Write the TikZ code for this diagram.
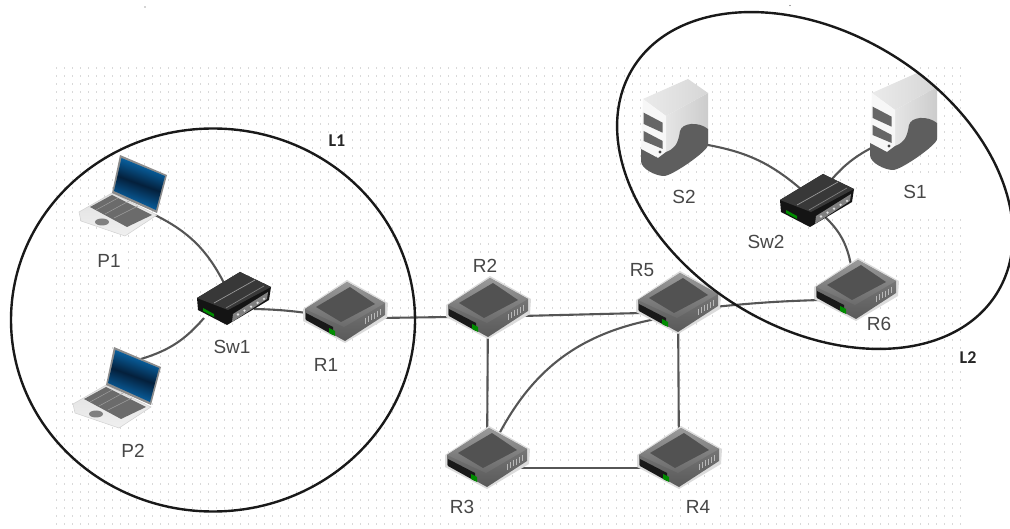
\documentclass[tikz,border=0pt]{standalone}
\usepackage{fontspec}
\setmainfont{Liberation Sans}
\newfontfamily\lfont{Carlito}
\usetikzlibrary{shadings}
\definecolor{link}{HTML}{555555}
\definecolor{scrA}{HTML}{0A78C4}
\definecolor{scrB}{HTML}{04203C}
\definecolor{scrC}{HTML}{0A72BC}
\tikzset{
  x=1pt,y=-1pt,
  link/.style={draw=link,line width=2.1pt},
  area/.style={draw=black!90,line width=2.4pt},
  lbl/.style={font=\fontsize{19}{19}\selectfont,text=black!72,fill=white,inner sep=5pt},
  zlbl/.style={font=\lfont\bfseries\fontsize{18}{18}\selectfont,text=black!85,fill=white,inner sep=2pt},
  dev/.style={inner sep=0pt,outer sep=0pt,minimum width=10pt,minimum height=10pt},
  router/.pic={
    \fill[black!14] (2,-32) -- (43,-9) -- (42,6) -- (0,31) -- (-42,9) -- (-42,-3) -- cycle;
    \shade[top color=black!48,bottom color=black!65] (2,-30) -- (40,-9) -- (40,3) -- (0,29) -- (-40,7) -- (-40,-3) -- cycle;
    \shade[top color=black!40,bottom color=black!58] (2,-30) -- (40,-9) -- (-1,15) -- (-40,-3) -- cycle;
    \fill[black!68] (5,-25) -- (30,-8) -- (-4,10) -- (-29,-5) -- cycle;
    \fill[black!90] (-39,1) -- (-12,15) -- (-12,23) -- (-39,8) -- cycle;
    \fill[green!55!black] (-16,16) -- (-10,19) -- (-10,24) -- (-16,21) -- cycle;
    \foreach \i in {0,...,5}{\draw[black!28,line width=.9pt] (20+\i*3,6-\i*1.8) -- (20+\i*3,12-\i*1.8);}
  },
  switchbox/.pic={
    \fill[black!92] (6,-26) -- (37,-11) -- (35,2) -- (-7,27) -- (-36,12) -- (-37,0) -- cycle;
    \fill[black!78] (6,-26) -- (37,-11) -- (-6,12) -- (-37,0) -- cycle;
    \draw[black!40,line width=.7pt] (-20,5) -- (21,-18);
    \draw[black!50,line width=.7pt] (-8,10) -- (30,-12);
    \fill[black!50] (-1,16) -- (34,-6) -- (33,1) -- (-2,24) -- cycle;
    \foreach \i in {0,...,4}{\fill[black!12] (4+\i*6.5,16.5-\i*3.9) circle (1.3);}
    \fill[green!55!black] (-31,10) -- (-20,16) -- (-20,19) -- (-31,13) -- cycle;
  },
  laptop/.pic={
    \shade[top color=black!12,bottom color=black!6,draw=black!18,line width=.5pt] (-7,38) -- (38,60) -- (6,81) -- (-38,66) -- (-40,57) -- cycle;
    \fill[black!58] (-29,52) -- (-7,40) -- (33,60) -- (8,72) -- cycle;
    \draw[black!38,line width=.5pt] (-23,55) -- (-1,43) (-14,59) -- (10,46) (-5,63) -- (19,51);
    \fill[black!50] (-17,67) ellipse [x radius=7, y radius=3.5];
    \fill[black!45] (1,0) -- (48,20) -- (38,58) -- (-7,38) -- cycle;
    \shade[top color=scrA,bottom color=scrC,middle color=scrB,shading angle=-20] (2.5,3) -- (46,21) -- (37,55) -- (-5,36) -- cycle;
  },
  serverbox/.pic={
    \shade[left color=black!10,right color=black!20] (24,37) -- (66,14) -- (66,64) -- (24,90) -- cycle;
    \shade[left color=black!8,right color=black!16] (1,20) -- (46,0) -- (66,14) -- (24,37) -- cycle;
    \fill[black!3] (1,20) -- (24,37) -- (24,80) -- (-1,72) -- cycle;
    \fill[black!63] (-1,70) -- (16,79) -- (24,73) .. controls (32,70) and (36,66) .. (38,52) .. controls (40,44) and (56,42) .. (66,50) -- (66,66) .. controls (66,72) and (30,97) .. (22,97) .. controls (14,97) and (-1,90) .. (-1,82) -- cycle;
    \fill[black!60] (1.7,33.7) -- (20.7,43.7) -- (20.7,53.7) -- (1.7,45) -- cycle;
    \fill[black!60] (1.7,52) -- (20.7,62) -- (20.7,70) -- (1.7,62) -- cycle;
    \fill[black!72] (18,73) circle (1.6);
  }
}
\begin{document}
\begin{tikzpicture}
\useasboundingbox (0,0) rectangle (1010,529);
\fill[white] (0,0) rectangle (1010,529);
% dotted paper
\foreach \r in {0,...,57}{
  \draw[black!15,line width=1.1pt,dash pattern=on 1.1pt off 6.9pt] (56,68+\r*8) -- (962,68+\r*8);
}
\fill[white] (878,176) rectangle (962,218);
% specks
\fill[black!70] (145,7) circle (0.7);
\fill[black!70] (790,5.5) circle (0.7);
% anchors of the devices
\node[dev] (P1) at (119,155) {};
\node[dev] (P2) at (113,347) {};
\node[dev] (S1) at (871,73) {};
\node[dev] (S2) at (642,79) {};
\node[dev] (Sw1) at (234,298) {};
\node[dev] (Sw2) at (817,200) {};
\node[dev] (R1) at (345,312) {};
\node[dev] (R2) at (488,308) {};
\node[dev] (R3) at (487,458) {};
\node[dev] (R4) at (679,458) {};
\node[dev] (R5) at (678,303) {};
\node[dev] (R6) at (856,290) {};
% labels
\node[lbl] (lP1) at (109,261) {P1};
\node[lbl] (lP2) at (133,451) {P2};
\node[lbl] (lSw1) at (232,347) {Sw1};
\node[lbl] (lR1) at (326,365) {R1};
\node[lbl] (lR2) at (485,266) {R2};
\node[lbl] (lR3) at (462,507) {R3};
\node[lbl] (lR4) at (698,507) {R4};
\node[lbl] (lR5) at (642,270) {R5};
\node[lbl] (lS1) at (915,192) {S1};
\node[lbl] (lS2) at (684,197) {S2};
\node[lbl] (lSw2) at (766,242) {Sw2};
\node[lbl] (lR6) at (879,324) {R6};
\node[zlbl] (lL1) at (337,141) {L1};
\node[zlbl] (lL2) at (968,358) {L2};
% connectors
\draw[link] ([shift={(36,60)}]P1.center) to[bend left=18] ([shift={(-10,-15)}]Sw1.center);
\draw[link] ([shift={(28,12)}]P2.center) to[bend right=16] ([shift={(-30,20)}]Sw1.center);
\draw[link] ([shift={(20,11)}]Sw1.center) to[bend left=3] ([shift={(-38,1)}]R1.center);
\draw[link] ([shift={(33,6)}]R1.center) -- ([shift={(-38,9)}]R2.center);
\draw[link] ([shift={(33,8)}]R2.center) -- ([shift={(-36,10)}]R5.center);
\draw[link] (R2.center) -- (R3.center);
\draw[link] ([shift={(30,10)}]R3.center) -- ([shift={(-36,10)}]R4.center);
\draw[link] (R5.center) -- (R4.center);
\draw[link] ([shift={(10,-20)}]R3.center) to[bend left=26] ([shift={(-22,16)}]R5.center);
\draw[link] ([shift={(36,4)}]R5.center) to[bend left=2] ([shift={(-36,10)}]R6.center);
\draw[link] ([shift={(66,66)}]S2.center) to[bend left=15] ([shift={(-15,-10)}]Sw2.center);
\draw[link] ([shift={(10,-15)}]Sw2.center) to[bend left=12] ([shift={(6,72)}]S1.center);
\draw[link] ([shift={(6,15)}]Sw2.center) to[bend left=18] ([shift={(-5,-25)}]R6.center);
% icons
\pic at (P1) {laptop};
\pic at (P2) {laptop};
\pic at (S1) {serverbox};
\pic at (S2) {serverbox};
\pic at (Sw1) {switchbox};
\pic at (Sw2) {switchbox};
\pic at (R1) {router};
\pic at (R2) {router};
\pic at (R3) {router};
\pic at (R4) {router};
\pic at (R5) {router};
\pic at (R6) {router};
% areas
\draw[area] (213,320) ellipse [x radius=202, y radius=191.5];
\draw[area,rotate around={-31.7:(815,180.5)}] (815,180.5) ellipse [x radius=214, y radius=147.4];
\end{tikzpicture}
\end{document}
